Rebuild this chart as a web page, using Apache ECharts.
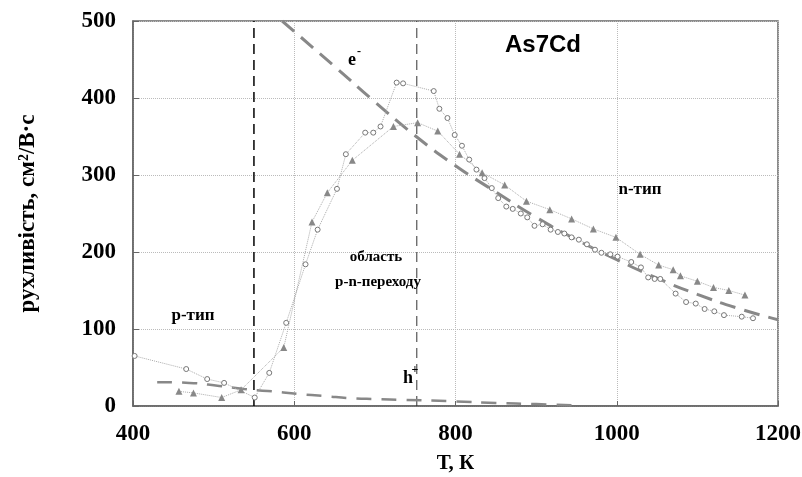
<!DOCTYPE html>
<html><head><meta charset="utf-8">
<script src="https://cdn.jsdelivr.net/npm/echarts@6/dist/echarts.min.js"></script>
<style>html,body{margin:0;padding:0;background:#fff}#c{width:802px;height:477px}</style>
</head><body><div id="c"></div>
<script>
var xTicks = [400, 600, 800, 1000, 1200];
var yTicks = [0, 100, 200, 300, 400, 500];
var circleData = [[402,65],[466,48],[492,35],[513,30],[551,11],[569,43],[590,108],[614,184],[629,229],[653,282],[664,327],[688,355],[698,355],[707,363],[727,420],[735,419],[773,409],[780,386],[790,374],[799,352],[808,338],[817,320],[826,307],[836,296],[845,283],[853,270],[863,259],[871,256],[881,250],[889,245],[898,234],[908,236],[918,229],[927,226],[935,224],[944,219],[953,216],[963,210],[973,203],[981,199],[992,197],[1001,194],[1018,187],[1030,180],[1039,167],[1047,165],[1054,165],[1073,146],[1086,135],[1098,133],[1109,126],[1121,123],[1133,118],[1155,116],[1169,114]];
var triangleData = [[457,19],[475,17],[510,11],[534,21],[587,76],[622,239],[641,277],[672,319],[723,363],[753,368],[778,357],[805,327],[833,303],[861,287],[888,266],[917,255],[944,243],[971,230],[999,219],[1029,197],[1052,183],[1070,177],[1079,169],[1100,162],[1120,154],[1139,150],[1159,144]];
var electronFit = [[585,500],[650,441],[700,395],[750,351],[800,312],[850,278],[900,245],[950,216],[1000,190],[1050,166],[1100,145],[1150,127],[1200,112]];
var holeFit = [[430,31],[470,30],[507,26],[538,22],[567,19.5],[606,15.6],[637,13],[672,10],[701,9],[736,8],[800,6],[850,4],[900,2.5],[946,1]];
var boundaryT = [550, 752];

var serif = '"Liberation Serif", "Times New Roman", serif';
var chart = echarts.init(document.getElementById('c'));
var txt = function(text, x, y, size) {
  return {type:'text', x:x, y:y, z:100, style:{text:text, font:'bold '+(size||15)+'px '+serif, fill:'#000', align:'center', verticalAlign:'middle'}};
};
var supText = function(base, sup, x, y) {
  return {type:'group', x:x, y:y, z:100, children:[
    {type:'text', x:0, y:0, z:100, style:{text:base, font:'bold 18px '+serif, fill:'#000', align:'center', verticalAlign:'middle'}},
    {type:'text', x:7, y:-8, z:100, style:{text:sup, font:'bold 12px '+serif, fill:'#000', align:'center', verticalAlign:'middle'}}
  ]};
};
chart.setOption({
  animation: false,
  grid: {left:133, right:24, top:21, bottom:71, show:true, borderColor:'#666', borderWidth:1.5,
    containLabel:false, outerBoundsMode:'none'},
  xAxis: {type:'value', min:xTicks[0], max:xTicks[xTicks.length-1], interval:200,
    name:'Т, К', nameLocation:'middle', nameGap:47,
    nameTextStyle:{fontFamily:serif, fontWeight:'bold', fontSize:21, color:'#000'},
    axisLine:{lineStyle:{color:'#666', width:1.5}},
    axisTick:{inside:true, length:5, lineStyle:{color:'#666'}},
    axisLabel:{fontFamily:serif, fontWeight:'bold', fontSize:23, color:'#000', margin:17,
      formatter:function(v){return String(v);}},
    splitLine:{show:true, lineStyle:{type:'dotted', color:'#bbb'}}},
  yAxis: {type:'value', min:yTicks[0], max:yTicks[yTicks.length-1], interval:100,
    name:'рухливість, см²/В·с', nameLocation:'middle', nameGap:93, nameRotate:90,
    nameTextStyle:{fontFamily:serif, fontWeight:'bold', fontSize:23, color:'#000'},
    axisLine:{show:true, lineStyle:{color:'#666', width:1.5}},
    axisTick:{show:true, inside:true, length:6, lineStyle:{color:'#666'}},
    axisLabel:{fontFamily:serif, fontWeight:'bold', fontSize:23, color:'#000', margin:17,
      formatter:function(v){return String(v);}},
    splitLine:{show:true, lineStyle:{type:'dotted', color:'#bbb'}}},
  series: [
    {type:'line', data:[[boundaryT[0],0],[boundaryT[0],500]], symbol:'none', silent:true,
      lineStyle:{color:'#000', width:1.5, type:[10,6]}},
    {type:'line', data:[[boundaryT[1],0],[boundaryT[1],500]], symbol:'none', silent:true,
      lineStyle:{color:'#333', width:1, type:[10,6]}},
    {type:'line', data:electronFit, smooth:true, symbol:'none',
      lineStyle:{color:'#888', width:3, type:[16,9]}},
    {type:'line', data:holeFit, smooth:true, symbol:'none',
      lineStyle:{color:'#888', width:2.5, type:[15,10]}},
    {type:'line', data:circleData, symbol:'circle', symbolSize:5,
      itemStyle:{color:'#fff', borderColor:'#777', borderWidth:1},
      lineStyle:{color:'#aaa', width:1, type:'dotted'}},
    {type:'line', data:triangleData, symbol:'triangle', symbolSize:7,
      itemStyle:{color:'#888'},
      lineStyle:{color:'#aaa', width:1, type:'dotted'}}
  ],
  graphic: [
    {type:'text', x:543, y:45, z:100, style:{text:'As7Cd', font:'bold 24px "Liberation Sans", Arial, sans-serif', fill:'#000', align:'center', verticalAlign:'middle'}},
    supText('e', '-', 352, 60),
    supText('h', '+', 408, 378),
    txt('n-тип', 640, 190, 17),
    txt('область', 376, 257, 15),
    txt('p-n-переходу', 378, 282, 15),
    txt('p-тип', 193, 316, 17)
  ]
});
</script></body></html>
